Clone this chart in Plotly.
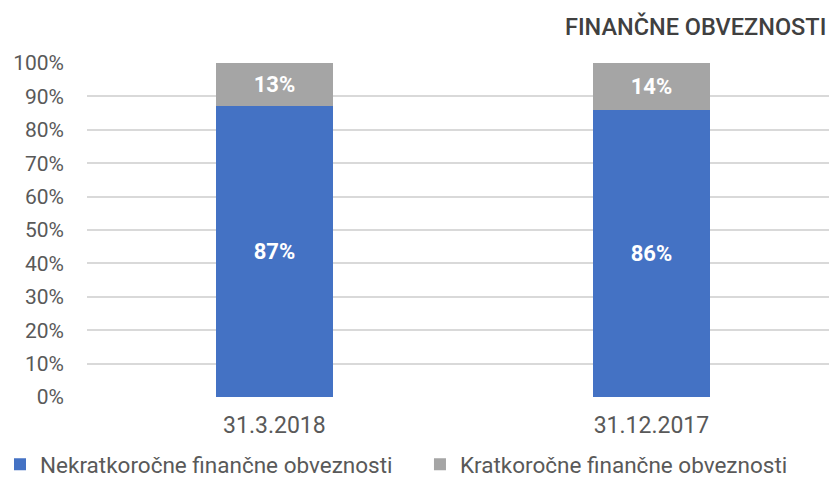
import plotly.graph_objects as go

categories = ["31.3.2018", "31.12.2017"]
long_term = [87, 86]
short_term = [13, 14]
series_names = ["Nekratkoročne finančne obveznosti", "Kratkoročne finančne obveznosti"]
tick_vals = [0, 10, 20, 30, 40, 50, 60, 70, 80, 90, 100]
tick_text = [f"{v}%" for v in tick_vals]
chart_title = "FINANČNE OBVEZNOSTI"

FONT = "Roboto, sans-serif"
GRAY = "#595959"

fig = go.Figure()
fig.add_trace(go.Bar(
    x=[0, 1], y=long_term, name=series_names[0], legend="legend",
    marker=dict(color="#4472C4", line=dict(width=0)),
    width=0.31,
    text=[f"{v}%" for v in long_term], textposition="inside", insidetextanchor="middle",
    textfont=dict(color="white", size=22, family=FONT, weight="bold"),
))
fig.add_trace(go.Bar(
    x=[0, 1], y=short_term, name=series_names[1], legend="legend2",
    marker=dict(color="#A5A5A5", line=dict(width=0)),
    width=0.31,
    text=[f"{v}%" for v in short_term], textposition="inside", insidetextanchor="middle",
    textfont=dict(color="white", size=22, family=FONT, weight="bold"),
))

legend_common = dict(orientation="h", xref="container", yref="container",
                     xanchor="left", yanchor="middle",
                     font=dict(size=22.5, color=GRAY, family=FONT), itemwidth=30,
                     bgcolor="rgba(0,0,0,0)")

fig.update_layout(
    barmode="stack",
    width=829, height=479,
    margin=dict(l=87, r=0, t=63, b=82, autoexpand=False),
    plot_bgcolor="white", paper_bgcolor="white",
    font=dict(family=FONT, color=GRAY, size=18),
    showlegend=True,
    legend=dict(x=-0.0097, y=0.03, **legend_common),
    legend2=dict(x=0.5066, y=0.03, **legend_common),
    xaxis=dict(range=[-0.497, 1.471], tickvals=[0, 1], ticktext=categories,
               showgrid=False, zeroline=False, showline=False, ticks="",
               ticklabelstandoff=12, automargin=False,
               tickfont=dict(size=23, color=GRAY)),
    yaxis=dict(range=[0, 100], tickvals=tick_vals, ticktext=tick_text,
               showgrid=True, gridcolor="#D9D9D9", gridwidth=1.5,
               zeroline=False, showline=False, ticks="", ticklabelstandoff=22,
               automargin=False,
               tickfont=dict(size=21, color=GRAY)),
    bargap=0,
)
fig.add_annotation(
    text=chart_title, xref="paper", yref="paper",
    x=0.998, y=1.108, xanchor="right", yanchor="middle", showarrow=False,
    font=dict(size=23.5, color="#404040", family=FONT, weight=500),
)

fig.write_html("out.html", config={"displayModeBar": False},
               post_script="document.body.style.margin='0';")
